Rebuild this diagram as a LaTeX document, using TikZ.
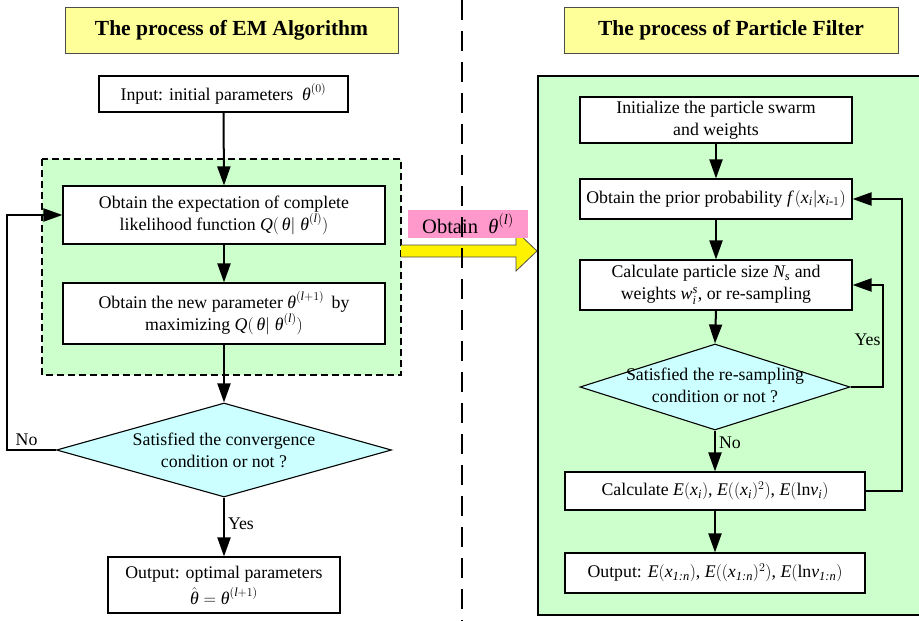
\documentclass[tikz,border=0pt]{standalone}
\usepackage{amsmath}
\usepackage{fontspec}
\setmainfont{Liberation Serif}
\usetikzlibrary{arrows.meta,shapes.geometric}
\definecolor{titley}{HTML}{FFFF99}
\definecolor{lgreen}{HTML}{CCFFCC}
\definecolor{lcyan}{HTML}{CCFFFF}
\definecolor{lpink}{HTML}{FF99CC}
\newcommand{\mi}[1]{\text{\itshape #1}}
\newcommand{\tx}[1]{\text{#1}}
\begin{document}
\begin{tikzpicture}[x=1pt,y=-1pt,
 box/.style={draw=black,line width=1.1pt,fill=white,inner sep=0pt,align=center,font=\fontsize{17.8}{22}\selectfont},
 ttl/.style={draw=black!70,line width=1pt,fill=titley,inner sep=0pt,font=\fontsize{21.5}{25}\selectfont\bfseries},
 dia/.style={diamond,draw=black,line width=1.1pt,fill=lcyan,inner sep=0pt},
 lbl/.style={inner sep=0pt,align=center,font=\fontsize{17.8}{22}\selectfont},
 arr/.style={line width=2pt,-{Triangle[length=19pt,width=13pt]}}]
\useasboundingbox (0,0) rectangle (919,621);
\clip (0,0) rectangle (919,621);
\fill[white] (0,0) rectangle (919,621);

% ---------- left: EM algorithm ----------
\node[ttl,minimum width=333pt,minimum height=46pt] (t1) at (231.5,30) {The process of EM Algorithm};
\draw[fill=lgreen,dash pattern=on 7pt off 4pt,line width=1.1pt] (42,159) rectangle (401,375);
\node[box,minimum width=249pt,minimum height=36pt] (in) at (223.5,94) {Input: initial parameters \ $\mi{θ}^{(0)}$};
\node[box,minimum width=322pt,minimum height=58pt] (b1) at (224,215) {Obtain the expectation of complete\\likelihood function $\mi{Q}(\,\mi{θ}|\;\mi{θ}^{(\mi{l})})$};
\node[box,minimum width=322pt,minimum height=61pt] (b2) at (224,313.5) {Obtain the new parameter $\mi{θ}^{(\mi{l}+1)}$ \,by\\maximizing $\mi{Q}(\,\mi{θ}|\;\mi{θ}^{(\mi{l})})$};
\node[dia,minimum width=335pt,minimum height=94pt] (d1) at (224,450) {};
\node[lbl] (d1t) at (224,450) {Satisfied the convergence\\condition or not ?};
\node[box,minimum width=232pt,minimum height=56pt] (o1) at (224,585) {Output: optimal parameters\\[4pt]$\hat{\mi{θ}}=\mi{θ}^{(\mi{l}+1)}$};

\draw[arr] (in.south) -- (b1.north);
\draw[arr] (b1.south) -- (b2.north);
\draw[arr] (b2.south) -- (d1.north);
\draw[arr] (d1.south) -- node[lbl,right=3pt,pos=0.45]{Yes} (o1.north);
\draw[arr] (d1.west) -- node[lbl,above=3pt,pos=0.6]{No} ++(-49,0) |- (b1.west);

% ---------- right: particle filter ----------
\node[ttl,minimum width=334pt,minimum height=46pt] (t2) at (731,30) {The process of Particle Filter};
\draw[fill=lgreen,line width=1.5pt] (538,76) rectangle (940,615);
\node[box,minimum width=272pt,minimum height=46pt] (init) at (716,120) {Initialize the particle swarm\\and weights};
\node[box,minimum width=272pt,minimum height=40pt] (prior) at (716,199) {Obtain the prior probability $\mi{f}\,(\mi{x}_{\mi{i}}|\mi{x}_{\mi{i}\text{-}1})$};
\node[box,minimum width=272pt,minimum height=50pt] (calc) at (716,285) {Calculate particle size $\mi{N}_{\mi{s}}$ and\\weights $\mi{w}_{\mi{i}}^{\mi{s}}$, or re-sampling};
\node[dia,minimum width=270pt,minimum height=86pt] (d2) at (715,387) {};
\node[lbl] (d2t) at (715,385) {Satisfied the re-sampling\\condition or not ?};
\node[box,minimum width=300pt,minimum height=38pt] (ce) at (715,491) {Calculate $\mi{E}(\mi{x}_{\mi{i}})$, $\mi{E}((\mi{x}_{\mi{i}})^2)$, $\mi{E}(\tx{ln}\mi{v}_{\mi{i}})$};
\node[box,minimum width=300pt,minimum height=40pt] (o2) at (715,573) {Output: $\mi{E}(\mi{x}_{\mi{1:n}})$, $\mi{E}((\mi{x}_{\mi{1:n}})^2)$, $\mi{E}(\tx{ln}\mi{v}_{\mi{1:n}})$};

\draw[arr] (init.south) -- (prior.north);
\draw[arr] (prior.south) -- (calc.north);
\draw[arr] (calc.south) -- (d2.north);
\draw[arr] (d2.south) -- node[lbl,right=3pt,pos=0.3]{No} (ce.north);
\draw[arr] (ce.south) -- (o2.north);
\draw[arr] (d2.east) -- ++(32,0) |- node[lbl,left=1pt,pos=0.23]{Yes} (calc.east);
\draw[arr] (ce.east) -- ++(36,0) |- (prior.east);

% ---------- transfer arrow ----------
\draw[fill=yellow,draw=black!70,line width=0.8pt] (401,245) -- (516,245) -- (516,231) -- (537,251) -- (516,271) -- (516,257) -- (401,257);
\node[fill=lpink,minimum width=120pt,minimum height=28pt,inner sep=0pt,font=\fontsize{20.5}{24}\selectfont] (pk) at (468,224) {Obtain \ $\mi{θ}^{(\mi{l})}$};

% ---------- divider ----------
\draw[line width=1.3pt,dash pattern=on 20pt off 11pt] (462,0) -- (462,621);
\end{tikzpicture}
\end{document}
